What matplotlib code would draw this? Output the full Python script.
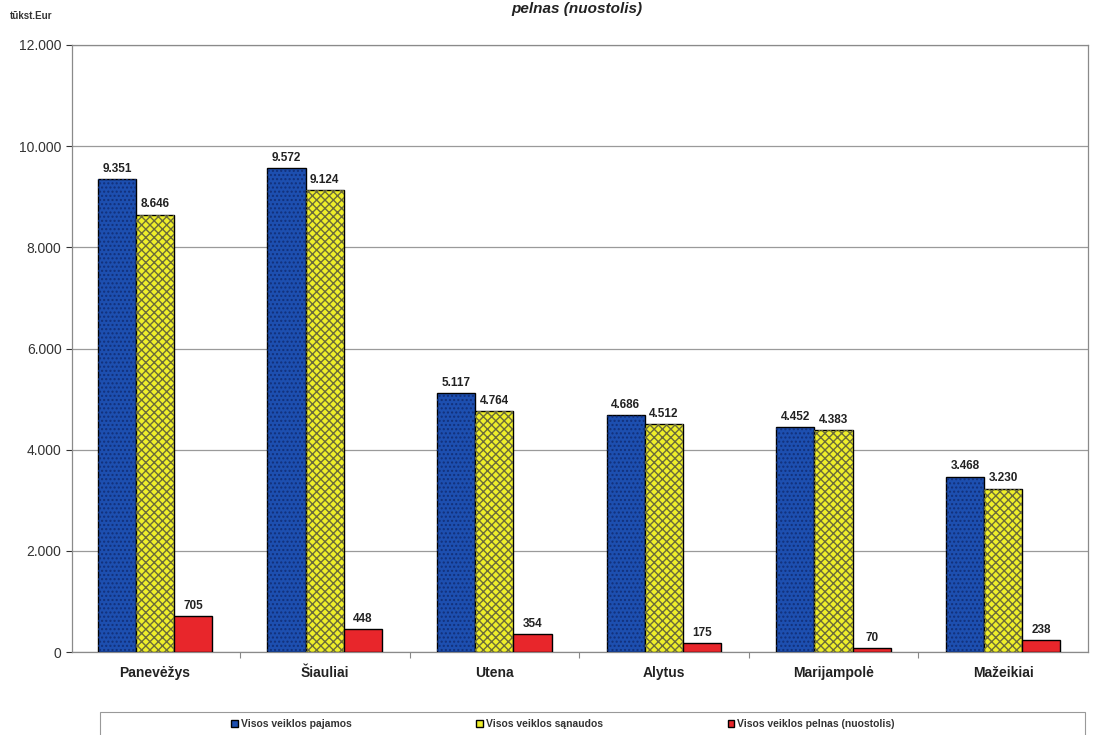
import numpy as np
import matplotlib
matplotlib.use('Agg')
import matplotlib.pyplot as plt
from matplotlib.patches import Rectangle
from matplotlib.ticker import FuncFormatter, FixedLocator

plt.rcParams['font.family'] = ['Liberation Sans', 'DejaVu Sans']
plt.rcParams['hatch.linewidth'] = 1.0

# Duomenys (tūkst. Eur)
miestai = ['Panevėžys', 'Šiauliai', 'Utena', 'Alytus', 'Marijampolė', 'Mažeikiai']
pajamos = [9351, 9572, 5117, 4686, 4452, 3468]
sanaudos = [8646, 9124, 4764, 4512, 4383, 3230]
pelnas = [705, 448, 354, 175, 70, 238]
serijos = ['Visos veiklos pajamos', 'Visos veiklos sąnaudos', 'Visos veiklos pelnas (nuostolis)']


def fmt(v):
    return f'{v:,.0f}'.replace(',', '.')


fig = plt.figure(figsize=(10.94, 7.35), dpi=100)
ax = fig.add_axes([72 / 1094, 1 - 652 / 735, (1088 - 72) / 1094, (652 - 45) / 735])

x = np.arange(len(miestai))
w = 0.225

b1 = ax.bar(x - w, pajamos, w, color='#1d4fb0', edgecolor='black', linewidth=1.0, zorder=3)
ax.bar(x - w, pajamos, w, fill=False, hatch='....', edgecolor='#12307a', linewidth=0, zorder=4)
b2 = ax.bar(x, sanaudos, w, color='#eeee2a', edgecolor='black', linewidth=1.0, zorder=3)
ax.bar(x, sanaudos, w, fill=False, hatch='xxxx', edgecolor='#6b6b3a', linewidth=0, zorder=4)
b3 = ax.bar(x + w, pelnas, w, color='#e8262b', edgecolor='black', linewidth=1.0, zorder=3)

for bars, vals in [(b1, pajamos), (b2, sanaudos), (b3, pelnas)]:
    ax.bar_label(bars, labels=[fmt(v) for v in vals], padding=3, fontsize=8.5,
                 fontweight='bold', color='#222222', zorder=5)

ax.set_ylim(0, 12000)
ax.set_xlim(-0.49, len(miestai) - 0.5)
ax.set_yticks(np.arange(0, 12001, 2000))
ax.yaxis.set_major_formatter(FuncFormatter(lambda v, _: fmt(v)))
ax.tick_params(axis='y', labelsize=10, colors='#333333', length=4, width=0.8)
ax.set_xticks(x)
ax.set_xticklabels(miestai, fontsize=10, fontweight='bold', color='#222222')
ax.tick_params(axis='x', length=0, pad=10)
ax.xaxis.set_minor_locator(FixedLocator(np.arange(0.5, len(miestai) - 1, 1)))
ax.tick_params(axis='x', which='minor', length=4, color='#888888', width=0.8)

ax.grid(axis='y', color='#9a9a9a', linewidth=0.9, zorder=0)
for s in ax.spines.values():
    s.set_color('#8a8a8a')
    s.set_linewidth(0.9)

# Pavadinimas (iškirptas viršuje) ir vienetai
fig.text(577 / 1094, 1 - 9 / 735, 'pelnas (nuostolis)', ha='center', va='center',
         fontsize=11, fontweight='bold', fontstyle='italic', color='#222222')
fig.text(10 / 1094, 1 - 16 / 735, 'tūkst.Eur', ha='left', va='center',
         fontsize=7, fontweight='bold', color='#333333')

# Legenda
fig.patches.append(Rectangle((100 / 1094, -0.01), 985 / 1094, (735 - 712) / 735 + 0.01,
                             transform=fig.transFigure, fill=False,
                             edgecolor='#999999', linewidth=0.8))
leg = fig.legend([b1, b2, b3], serijos, loc='center', bbox_to_anchor=(563 / 1094, 1 - 724 / 735),
                 ncol=3, frameon=False, fontsize=7.5, handlelength=0.6, handleheight=0.6,
                 handletextpad=0.3, columnspacing=12)
for t in leg.get_texts():
    t.set_fontweight('bold')
    t.set_color('#333333')

fig.savefig('out.png', dpi=100)
plt.close(fig)
